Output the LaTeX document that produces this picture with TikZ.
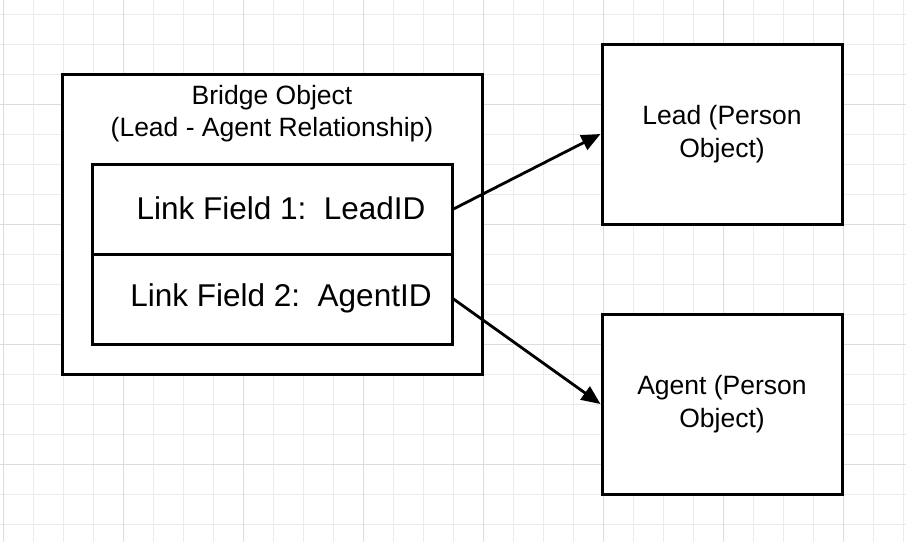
\documentclass[tikz,border=0pt]{standalone}
\usepackage{fontspec}
\setmainfont{Liberation Sans}
\usepackage{tikz}
\usetikzlibrary{positioning,arrows.meta,calc}
\definecolor{gridminor}{HTML}{EBEBEB}
\definecolor{gridmajor}{HTML}{DCDCDC}
\tikzset{
  flowarrow/.style={-{Triangle[length=19pt, width=16pt]}, line width=2.8pt},
  objbox/.style={draw, line width=3pt, fill=white, minimum width=240pt, minimum height=180pt, align=center, inner sep=0pt, font=\fontsize{26.5}{33}\selectfont},
  bridgebox/.style={draw, line width=3pt, fill=white, minimum width=420pt, minimum height=300pt, inner sep=0pt},
  fieldbox/.style={draw, line width=3pt, minimum width=360pt, minimum height=90pt, inner sep=0pt},
  fieldtext/.style={inner sep=0pt, font=\fontsize{31.5}{36}\selectfont},
  titletext/.style={inner sep=0pt, align=center, font=\fontsize{26.5}{32}\selectfont}
}

\begin{document}
\begin{tikzpicture}[x=1pt, y=-1pt]
      \useasboundingbox (0,0) rectangle (906,542);
      % background grid
      \foreach \gx in {3,33,...,903} \draw[gridminor, line width=1pt] (\gx,0) -- (\gx,542);
      \foreach \gy in {14,44,...,542} \draw[gridminor, line width=1pt] (0,\gy) -- (906,\gy);
      \foreach \gx in {3,123,...,903} \draw[gridmajor, line width=1pt] (\gx,0) -- (\gx,542);
      \foreach \gy in {104,224,...,542} \draw[gridmajor, line width=1pt] (0,\gy) -- (906,\gy);
      % bridge object
      \node[bridgebox] (bridge) at (272,224) {};
      \node[titletext] (bridgetitle) at (272,114) {Bridge Object\\(Lead - Agent Relationship)};
      \node[fieldbox] (leadfield) at (272,209) {};
      \node[fieldbox] (agentfield) at (272,299) {};
      \node[fieldtext] (leadfieldtext) at (281,208) {Link Field 1:\ \ LeadID};
      \node[fieldtext] (agentfieldtext) at (281,298) {Link Field 2:\ \ AgentID};
      % person objects
      \node[objbox] (lead) at (722,134) {Lead (Person\\Object)};
      \node[objbox] (agent) at (722,404) {Agent (Person\\Object)};
      \draw[flowarrow] (leadfield.east) -- (lead.west);
      \draw[flowarrow] (agentfield.east) -- (agent.west);
    \end{tikzpicture}
\end{document}
